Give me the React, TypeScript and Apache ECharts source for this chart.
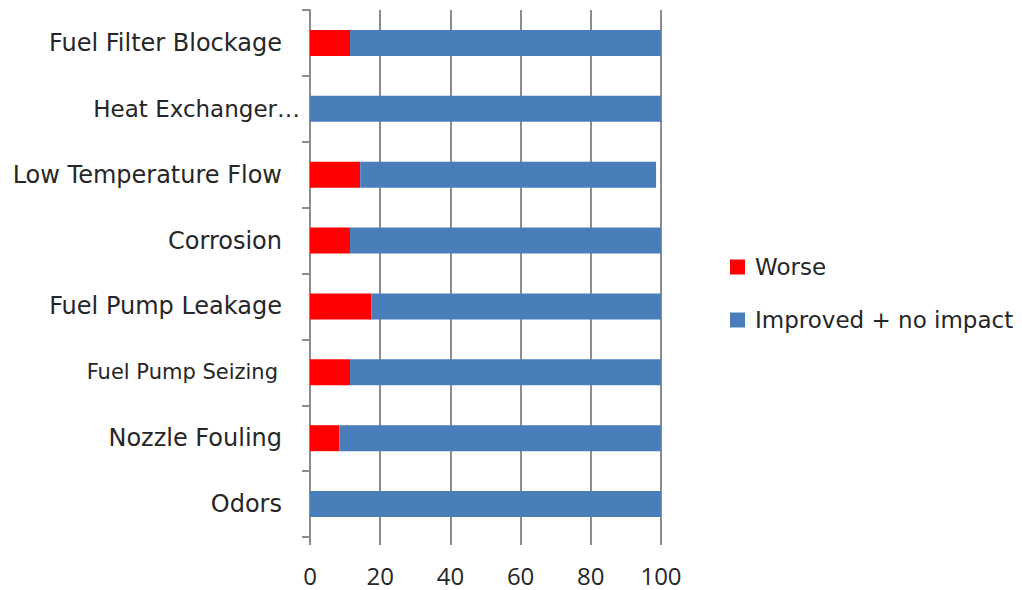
import React, { useEffect, useRef } from "react";
import * as echarts from "echarts";

const categories = [
  "Fuel Filter Blockage",
  "Heat Exchanger…",
  "Low Temperature Flow",
  "Corrosion",
  "Fuel Pump Leakage",
  "Fuel Pump Seizing",
  "Nozzle Fouling",
  "Odors",
];
const worse = [11.4, 0, 14.3, 11.4, 17.5, 11.4, 8.4, 0];
const improved = [88.6, 100, 84.3, 88.6, 82.5, 88.6, 91.6, 100];
const xTicks = [0, 20, 40, 60, 80, 100];

const FONT = "'DejaVu Sans', 'Open Sans', sans-serif";
const NUMFONT = "'Open Sans', Lato, sans-serif";

export default function App() {
  const ref = useRef<HTMLDivElement>(null);
  useEffect(() => {
    if (!ref.current) return;
    const chart = echarts.init(ref.current, undefined, { renderer: "svg" });
    chart.setOption({
      animation: false,
      backgroundColor: "#ffffff",
      textStyle: { fontFamily: FONT },
      grid: { left: 310, right: 361, top: 10, bottom: 53, containLabel: false },
      legend: {
        orient: "vertical",
        left: 730,
        top: 255,
        padding: 0,
        itemWidth: 15,
        itemHeight: 15,
        itemGap: 29,
        icon: "rect",
        textStyle: { fontSize: 23, color: "#262626", fontFamily: FONT, lineHeight: 24, padding: [0, 0, 0, 5] },
        data: ["Worse", "Improved + no impact"],
      },
      xAxis: {
        type: "value",
        min: xTicks[0],
        max: xTicks[xTicks.length - 1],
        interval: 20,
        axisLine: { show: false },
        axisTick: { show: true, length: 8, lineStyle: { color: "#8c8c8c", width: 2 } },
        splitLine: { show: true, lineStyle: { color: "#8c8c8c", width: 2 } },
        axisLabel: { fontSize: 24, color: "#262626", margin: 25, fontFamily: NUMFONT, lineHeight: 26 },
      },
      yAxis: {
        type: "category",
        inverse: true,
        data: categories,
        axisLine: { show: true, lineStyle: { color: "#8c8c8c", width: 2 } },
        axisTick: { show: true, length: 8, lineStyle: { color: "#8c8c8c", width: 2 } },
        axisLabel: {
          margin: 10,
          fontFamily: FONT,
          formatter: (v: string) => {
            if (v === "Heat Exchanger…") return "{h|" + v + "}";
            if (v === "Fuel Pump Seizing") return "{s|" + v + "}";
            return "{n|" + v + "}";
          },
          rich: {
            n: { fontSize: 24, color: "#262626", padding: [0, 18, 0, 0], fontFamily: FONT },
            h: { fontSize: 23, color: "#262626", padding: [0, 0, 0, 0], fontFamily: FONT },
            s: { fontSize: 21, color: "#262626", padding: [0, 22, 0, 0], fontFamily: FONT },
          },
        },
      },
      series: [
        {
          name: "Worse",
          type: "bar",
          stack: "total",
          data: worse,
          barWidth: 26,
          itemStyle: { color: "#ff0000" },
        },
        {
          name: "Improved + no impact",
          type: "bar",
          stack: "total",
          data: improved,
          barWidth: 26,
          itemStyle: { color: "#4a7ebb" },
        },
      ],
    });
    return () => chart.dispose();
  }, []);
  return <div ref={ref} style={{ position: "absolute", left: 0, top: 0, width: 1022, height: 590 }} />;
}
